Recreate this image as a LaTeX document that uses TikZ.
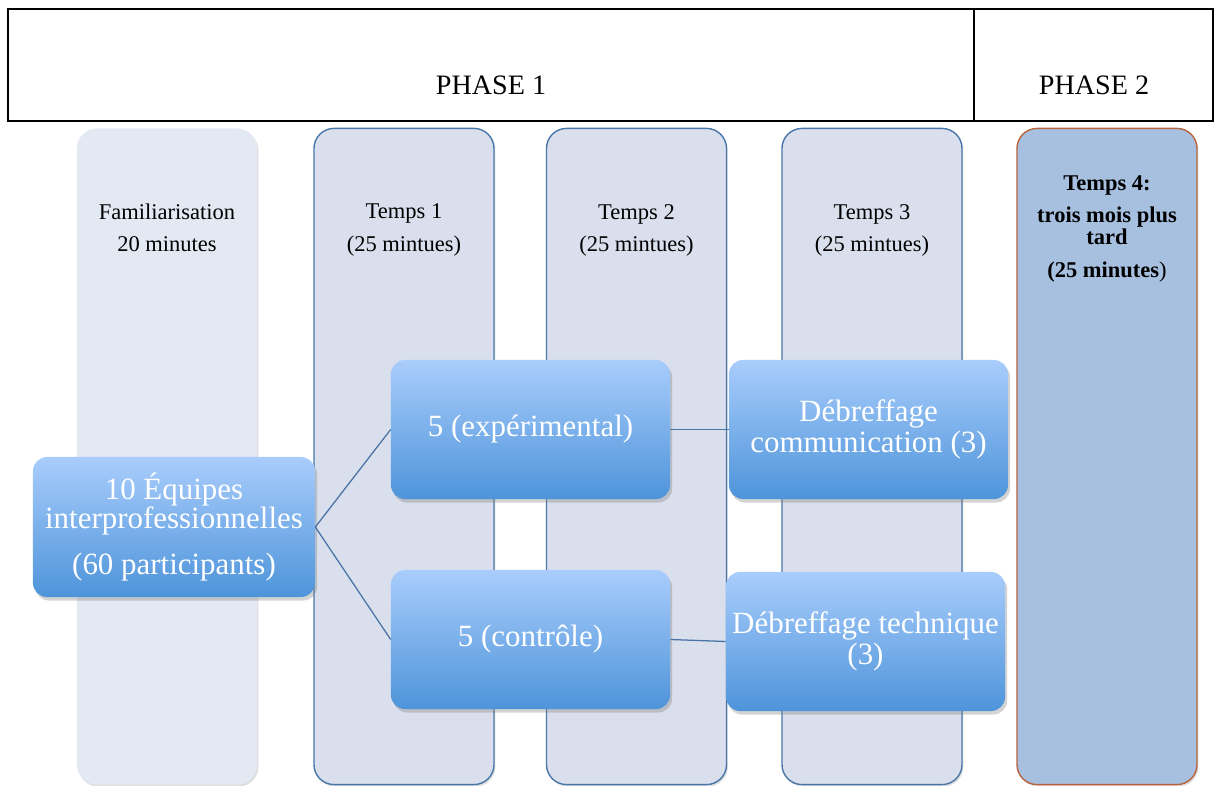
\documentclass[tikz,border=0pt]{standalone}
\usepackage{fontspec}
\setmainfont{Liberation Serif}
\usetikzlibrary{
    positioning,
    shadows
}
\definecolor{famfill}{HTML}{E2E9F3}
\definecolor{tempsfill}{HTML}{D9DFEC}
\definecolor{tempsedge}{HTML}{4A77AA}
\definecolor{laterfill}{HTML}{A7C0DF}
\definecolor{lateredge}{HTML}{B7643F}
\definecolor{grouptop}{HTML}{A9CDFC}
\definecolor{groupbottom}{HTML}{4E94DA}
\definecolor{linkcolor}{HTML}{4A74A6}
\tikzset{
    % Column of the time line:
    column/.style = {
        rectangle,
        rounded corners = 0.5cm,
        minimum width = 4.5cm,
        minimum height = 16.4cm,
        drop shadow={shadow xshift=1pt,shadow yshift=-1.5pt,opacity=0.25}
    },
    % Familiarisation, no edge:
    warmup column/.style = {
        column,
        fill = famfill
    },
    % Temps 1 to 3:
    temps column/.style = {
        column,
        draw = tempsedge,
        fill = tempsfill,
        line width = 1pt
    },
    % Temps 4:
    later column/.style = {
        temps column,
        draw = lateredge,
        fill = laterfill
    },
    % Head text of a column:
    column text/.style = {
        align = center,
        font = \fontsize{16}{22.8}\selectfont
    },
    % Group of teams:
    group/.style = {
        rectangle,
        rounded corners = 0.35cm,
        minimum width = 6.975cm,
        minimum height = 3.475cm,
        inner sep = 1pt,
        top color = grouptop,
        bottom color = groupbottom,
        text = white,
        align = center,
        font = \fontsize{22}{21}\selectfont,
        drop shadow={shadow xshift=1.5pt,shadow yshift=-2.5pt,opacity=0.35}
    },
    link/.style = {
        draw = linkcolor,
        line width = 0.9pt
    }
}

\begin{document}
\begin{tikzpicture}[x=0.025cm, y=-0.025cm]
    \useasboundingbox (0, 0) rectangle (1217, 786);
    % header
    \draw [line width=2pt] (8, 9) rectangle (1213, 121);
    \draw [line width=0.8pt] (974, 9) -- (974, 121);
    \node [font=\fontsize{20}{24}\selectfont] (ph1) at (491, 85) {PHASE 1};
    \node [font=\fontsize{20}{24}\selectfont] (ph2) at (1094, 85) {PHASE 2};
    % columns
    \node [warmup column] (fam) at (167, 456.5) {};
    \node [temps column] (t1) at (404, 456.5) {};
    \node [temps column] (t2) at (636.5, 456.5) {};
    \node [temps column] (t3) at (872, 456.5) {};
    \node [later column] (t4) at (1107, 456.5) {};
    \node [column text] (famtxt) at (167, 228) {Familiarisation\\20 minutes};
    \node [column text] (t1txt) at (404, 230) {Temps 1\\(25 mintues)};
    \node [column text] (t2txt) at (636.5, 230) {Temps 2\\(25 mintues)};
    \node [column text] (t3txt) at (872, 230) {Temps 3\\(25 mintues)};
    \node [column text, font=\fontsize{16}{16}\selectfont\bfseries] (t4txt) at (1107, 229)
        {Temps 4:\\[6.5pt]trois mois plus\\tard\\[7.5pt](25 minutes{\mdseries)}};
    % groups
    \node [group, minimum width=7.05cm, minimum height=3.5cm] (eq) at (174, 527)
        {10 Équipes\\interprofessionnelles\\[12pt](60 participants)};
    \node [group] (exp) at (530.5, 429.5) {5 (expérimental)};
    \node [group] (ctl) at (530.5, 639.5) {5 (contrôle)};
    \node [group, font=\fontsize{22}{21.5}\selectfont] (comm) at (868.5, 429.5)
        {Débreffage\\communication (3)};
    \node [group, font=\fontsize{22}{21.5}\selectfont] (tech) at (865.5, 641.5)
        {Débreffage technique\\(3)};
    % links
    \draw [link] (eq.east) -- (exp.west);
    \draw [link] (eq.east) -- (ctl.west);
    \draw [link] (exp.east) -- (comm.west);
    \draw [link] (ctl.east) -- (tech.west);
\end{tikzpicture}
\end{document}
